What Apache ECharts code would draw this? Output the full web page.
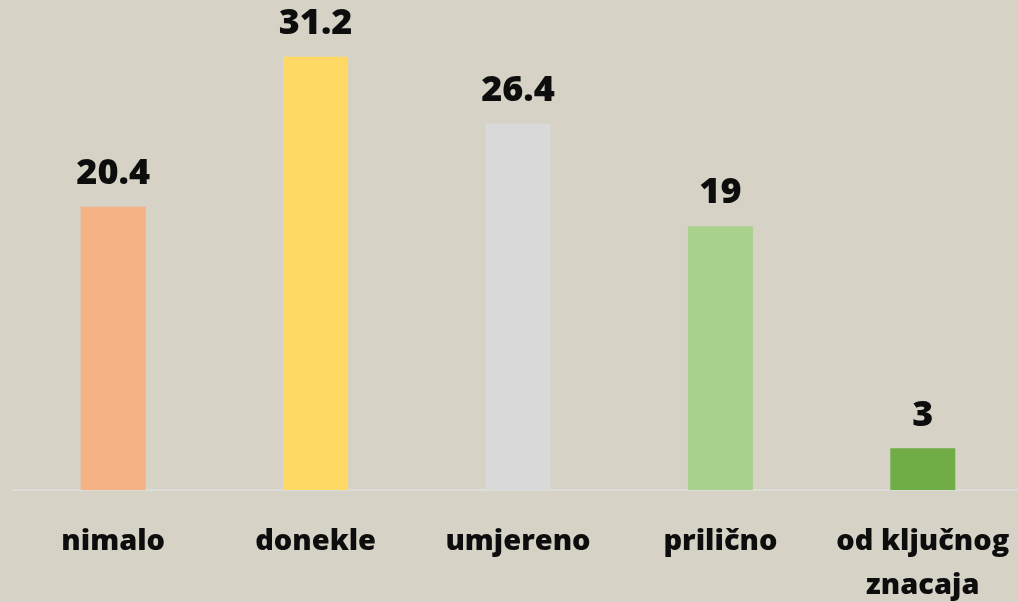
<!DOCTYPE html>
<html>
<head>
    <meta charset="utf-8">
    <script src="https://cdn.jsdelivr.net/npm/echarts@6/dist/echarts.min.js"></script>
</head>
<body style="margin:0; background-color:#d6d3c6">
	<div id="main" style="width:1018px;height:602px;"></div>
	<script type="text/javascript">
		var categories = ['nimalo', 'donekle', 'umjereno', 'prilično', 'od ključnog\nznacaja'];
		var values = [20.4, 31.2, 26.4, 19, 3];
		var colors = ['#F4B183', '#FFD966', '#D9D9D9', '#A9D18E', '#70AD47'];

		var myChart = echarts.init(document.getElementById('main'));

		var data = values.map(function (v, i) {
			return { value: v, itemStyle: { color: colors[i] } };
		});

		var option = {
			backgroundColor: '#d6d3c6',
			animation: false,
			grid: { left: 12, right: -6, top: 4, bottom: 112, outerBoundsMode: 'none' },
			xAxis: {
				type: 'category',
				data: categories,
				axisLine: { lineStyle: { color: '#dcdcd8', width: 2 } },
				axisTick: { show: false },
				axisLabel: {
					interval: 0,
					margin: 30,
					color: '#0d0d0d',
					fontFamily: 'Open Sans',
					fontWeight: 800,
					fontSize: 29,
					lineHeight: 44
				}
			},
			yAxis: {
				type: 'value',
				min: 0,
				max: 35,
				show: false,
				splitLine: { show: false }
			},
			series: [{
				type: 'bar',
				data: data,
				barWidth: 65,
				label: {
					show: true,
					position: 'top',
					distance: 15,
					color: '#0d0d0d',
					fontFamily: 'Open Sans',
					fontWeight: 800,
					fontSize: 36
				}
			}]
		};
		myChart.setOption(option);
	</script>
</body>
</html>
